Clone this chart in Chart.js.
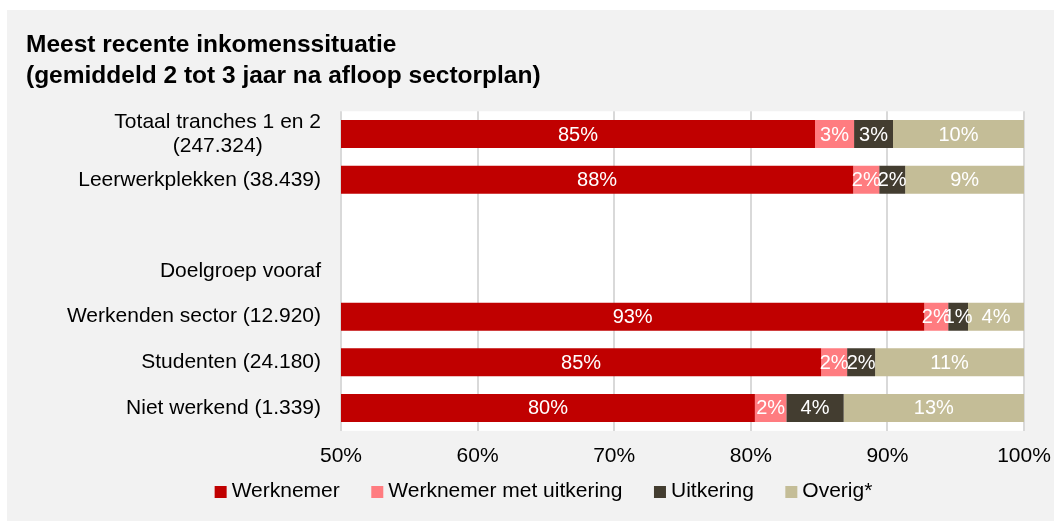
<!DOCTYPE html>
<html>
<head>
<meta charset="utf-8">
<script src="https://cdn.jsdelivr.net/npm/chart.js@4.4.0/dist/chart.umd.min.js"></script>
<style>
  html, body { margin: 0; padding: 0; background: #ffffff; }
  #wrap { position: absolute; left: 7px; top: 10px; width: 1047px; height: 511px; background: #F2F2F2; }
</style>
</head>
<body>
<div id="wrap"><canvas id="c"></canvas></div>
<script>
const titleLines = ['Meest recente inkomenssituatie', '(gemiddeld 2 tot 3 jaar na afloop sectorplan)'];
const categories = [
  ['Totaal tranches 1 en 2', '(247.324)          '],
  'Leerwerkplekken (38.439)',
  '',
  'Doelgroep vooraf',
  'Werkenden sector (12.920)',
  'Studenten (24.180)',
  'Niet werkend (1.339)'
];
const seriesNames = ['Werknemer', 'Werknemer met uitkering', 'Uitkering', 'Overig*'];
const werknemer = [84.7, 87.5, null, null, 92.7, 85.15, 80.3];
const werknemerMetUitkering = [2.86, 1.9, null, null, 1.75, 1.9, 2.3];
const uitkering = [2.85, 1.9, null, null, 1.45, 2.05, 4.2];
const overig = [9.59, 8.7, null, null, 4.1, 10.9, 13.2];
const xTicks = [50, 60, 70, 80, 90, 100];

const FONT = "'Liberation Sans', Arial, Helvetica, sans-serif";
const colors = ['#C00000', '#FF7C80', '#433D30', '#C4BD97'];
const seriesData = [werknemer, werknemerMetUitkering, uitkering, overig];

const plotBg = {
  id: 'plotBg',
  beforeDraw(chart) {
    const {ctx, chartArea: a} = chart;
    ctx.save();
    ctx.fillStyle = '#ffffff';
    ctx.fillRect(a.left, a.top, a.right - a.left, a.bottom - a.top);
    ctx.restore();
  }
};

const barLabels = {
  id: 'barLabels',
  afterDatasetsDraw(chart) {
    const {ctx, chartArea: a} = chart;
    ctx.save();
    ctx.font = '20px ' + FONT;
    ctx.fillStyle = '#ffffff';
    ctx.textAlign = 'center';
    ctx.textBaseline = 'middle';
    chart.data.datasets.forEach((ds, di) => {
      const meta = chart.getDatasetMeta(di);
      meta.data.forEach((el, i) => {
        const v = ds.data[i];
        if (v === null || v === undefined) return;
        const l = Math.max(Math.min(el.x, el.base), a.left);
        const r = Math.min(Math.max(el.x, el.base), a.right);
        ctx.fillText(Math.round(v) + '%', (l + r) / 2, el.y + 1);
      });
    });
    ctx.restore();
  }
};

// legend drawn on the chart canvas from the datasets
const bottomLegend = {
  id: 'bottomLegend',
  afterDraw(chart) {
    const {ctx} = chart;
    const box = 12, gap = 5, spacing = 31.5, centerX = 536.5, cy = 481;
    ctx.save();
    ctx.font = '21px ' + FONT;
    ctx.textBaseline = 'middle';
    ctx.textAlign = 'left';
    const items = chart.data.datasets.map(ds => ({
      text: ds.label, color: ds.backgroundColor, w: ctx.measureText(ds.label).width
    }));
    const total = items.reduce((s, it) => s + box + gap + it.w, 0) + spacing * (items.length - 1);
    let x = centerX - total / 2;
    items.forEach(it => {
      ctx.fillStyle = it.color;
      ctx.fillRect(x, cy - box / 2 + 1, box, box);
      ctx.fillStyle = '#000';
      ctx.fillText(it.text, x + box + gap, cy);
      x += box + gap + it.w + spacing;
    });
    ctx.restore();
  }
};

new Chart(document.getElementById('c'), {
  type: 'bar',
  data: {
    labels: categories,
    datasets: seriesNames.map((n, i) => ({
      label: n,
      data: seriesData[i],
      backgroundColor: colors[i],
      borderWidth: 0,
      barPercentage: 0.614,
      categoryPercentage: 1
    }))
  },
  options: {
    indexAxis: 'y',
    responsive: true,
    maintainAspectRatio: false,
    animation: false,
    layout: { padding: { left: 19, right: 30, top: 0, bottom: 39 } },
    scales: {
      x: {
        stacked: true,
        min: 50,
        max: 100,
        afterBuildTicks(scale) { scale.ticks = xTicks.map(v => ({ value: v })); },
        afterFit(scale) { scale.paddingLeft = 0; scale.paddingRight = 0; },
        ticks: {
          callback: v => v + '%',
          color: '#000',
          font: { family: FONT, size: 21 },
          padding: 13
        },
        grid: { color: '#D9D9D9', lineWidth: 2, drawTicks: false },
        border: { display: false }
      },
      y: {
        stacked: true,
        afterFit(scale) { scale.width = 315; },
        ticks: {
          color: '#000',
          font: { family: FONT, size: 21, lineHeight: 1.12 },
          padding: 20,
          autoSkip: false
        },
        grid: { display: false, drawTicks: false },
        border: { display: false }
      }
    },
    plugins: {
      title: {
        display: true,
        text: titleLines,
        align: 'start',
        color: '#000',
        font: { family: FONT, size: 24.5, weight: 'bold', lineHeight: 1.25 },
        padding: { top: 20, bottom: 20 }
      },
      legend: { display: false },
      tooltip: { enabled: false }
    }
  },
  plugins: [plotBg, barLabels, bottomLegend]
});
</script>
</body>
</html>
